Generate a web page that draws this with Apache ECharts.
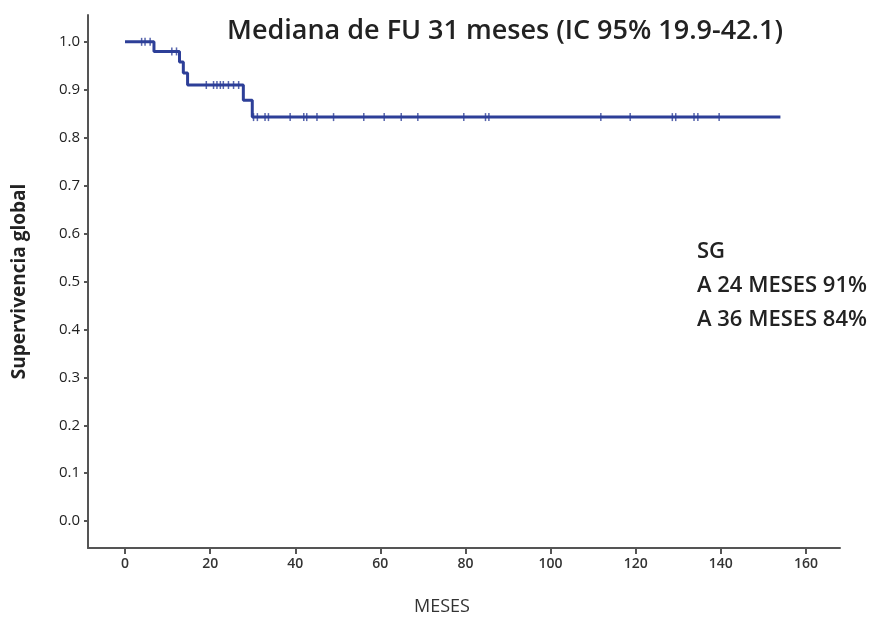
<!DOCTYPE html>
<html><head><meta charset="utf-8">
<script src="https://cdn.jsdelivr.net/npm/echarts@6/dist/echarts.min.js"></script>
<style>html,body{margin:0;padding:0;background:#fff}#c{width:881px;height:617px}</style>
</head><body><div id="c"></div>
<script>
// Kaplan-Meier step data (months, survival)
const stepTimes = [0, 6.8, 12.8, 13.7, 14.7, 27.8, 29.9, 154];
const stepSurv  = [1.0, 0.98, 0.958, 0.935, 0.91, 0.878, 0.843, 0.843];
// censored observations (months)
const censorTimes = [3.9, 4.7, 5.9, 11, 12.1, 19.1, 20.8, 21.6, 22.4, 23.1, 24.3, 25.5, 26.7,
  30.2, 31.1, 32.9, 33.7, 38.8, 42, 42.7, 45.1, 49, 56.1, 60.9, 64.9, 68.8, 79.6, 84.7, 85.5,
  111.8, 118.7, 128.6, 129.4, 133.7, 134.6, 139.6];
const xTicks = [0, 20, 40, 60, 80, 100, 120, 140, 160];
const yTicks = [0, 0.1, 0.2, 0.3, 0.4, 0.5, 0.6, 0.7, 0.8, 0.9, 1.0];
const titleText = 'Mediana de FU 31 meses (IC 95% 19.9-42.1)';
const noteLines = ['SG', 'A 24 MESES 91%', 'A 36 MESES 84%'];

function survAt(t){ let s = stepSurv[0]; for (let i=0;i<stepTimes.length;i++){ if (stepTimes[i] <= t) s = stepSurv[i]; } return s; }

const blue = '#2d3f98';
const font = 'Open Sans';
const chart = echarts.init(document.getElementById('c'));
chart.setOption({
  animation: false,
  backgroundColor: '#fff',
  title: { text: titleText, left: 222, top: 13, textStyle: { fontFamily: font, fontSize: 27, fontWeight: 600, color: '#222' } },
  grid: { left: 88, right: 41, top: 15, bottom: 69, containLabel: false },
  xAxis: {
    type: 'value', min: -8.7, max: 168,
    axisLine: { onZero: false, lineStyle: { color: '#555', width: 2 } },
    axisTick: { show: true, customValues: xTicks, length: 6, lineStyle: { color: '#555', width: 2 } },
    axisLabel: { customValues: xTicks, fontFamily: font, fontSize: 14, fontWeight: 600, color: '#333', margin: 9 },
    splitLine: { show: false }
  },
  yAxis: {
    type: 'value', min: -0.056, max: 1.056,
    name: 'Supervivencia global', nameLocation: 'middle', nameRotate: 90, nameGap: 59,
    nameTextStyle: { fontFamily: font, fontSize: 19, fontWeight: 'bold', color: '#222' },
    axisLine: { show: true, onZero: false, lineStyle: { color: '#555', width: 2 } },
    axisTick: { show: true, customValues: yTicks, length: 4, lineStyle: { color: '#555', width: 2 } },
    axisLabel: { customValues: yTicks, fontFamily: font, fontSize: 15, color: '#222', margin: 8,
      formatter: v => v.toFixed(1) },
    splitLine: { show: false }
  },
  graphic: [
    { type: 'text', left: 414, top: 598, style: { text: 'MESES', font: '18px "Open Sans"', fill: '#333' } },
    { type: 'text', left: 697, top: 235, style: { text: noteLines.join('\n'), font: '600 22px "Open Sans"', lineHeight: 34, fill: '#222' } }
  ],
  series: [
    { type: 'line', step: 'end', symbol: 'none', data: stepTimes.map((t,i)=>[t, stepSurv[i]]),
      lineStyle: { color: blue, width: 3 } },
    { type: 'scatter', symbol: 'rect', symbolSize: [1.5, 8], data: censorTimes.map(t=>[t, survAt(t)]),
      itemStyle: { color: blue } }
  ]
});
</script></body></html>
